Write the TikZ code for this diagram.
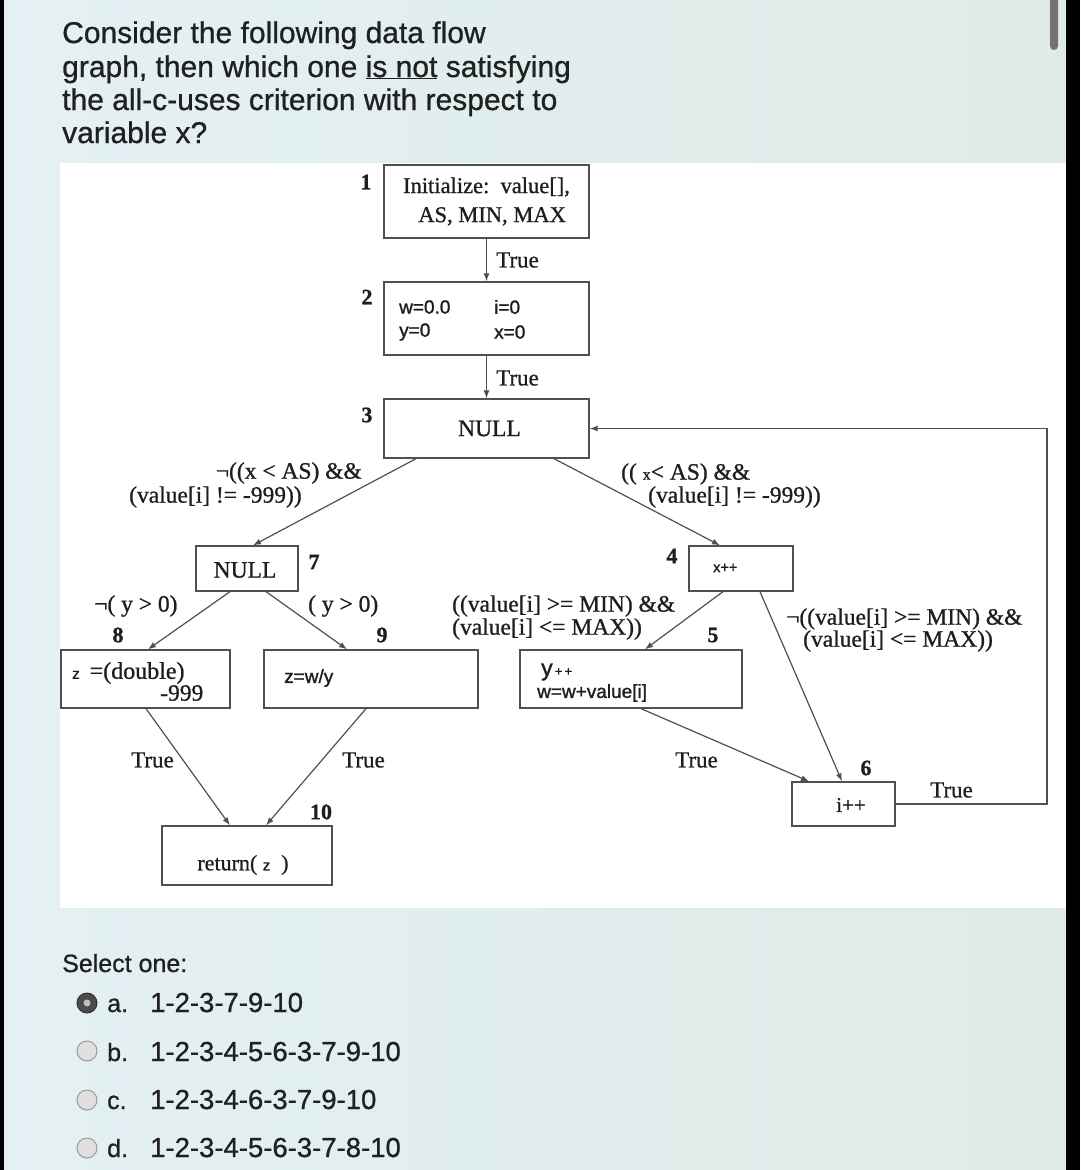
\documentclass[tikz,border=0pt]{standalone}
\usepackage{fontspec}
\setmainfont{Liberation Serif}[FakeBold=0.9]
\newfontfamily\ui{Liberation Sans}[FakeBold=0.8]
\newfontfamily\uis{Liberation Sans}[FakeBold=1.4]
\usetikzlibrary{arrows.meta,calc}
\definecolor{bgl}{HTML}{E4F0F3}
\definecolor{bgr}{HTML}{DEEBE7}
\definecolor{edgec}{HTML}{505050}
\definecolor{ink}{HTML}{1E1E1E}
\definecolor{qink}{HTML}{202020}
\tikzset{
  box/.style={draw=edgec, line width=1.3pt, inner sep=0pt, fill=white},
  conn/.style={draw=edgec, line width=1.2pt, -{Latex[length=8pt,width=6pt]}},
  lbl/.style={inner sep=0pt, text=ink, font=\fontsize{23.5}{26}\selectfont},
  num/.style={inner sep=0pt, text=ink, font=\fontsize{22}{24}\selectfont\bfseries},
  small/.style={inner sep=0pt, text=ink, font=\uis\fontsize{19}{21}\selectfont},
  qtext/.style={inner sep=0pt, anchor=base west, text=qink, font=\ui\fontsize{30}{32}\selectfont},
  otext/.style={inner sep=0pt, anchor=base west, text=qink, font=\ui\fontsize{25}{28}\selectfont},
  ptext/.style={inner sep=0pt, anchor=base west, text=qink, font=\ui\fontsize{27.5}{28}\selectfont},
  radio/.style={draw=black!40, line width=1pt, fill=black!12},
}
\begin{document}
\begin{tikzpicture}[x=1pt,y=-1pt]
\useasboundingbox (0,0) rectangle (1080,1170);
% background
\shade[left color=bgl, right color=bgr] (0,0) rectangle (1080,1170);
\fill[white] (60,163) rectangle (1066,908);
\fill[black] (1066,0) rectangle (1080,1170);
\fill[black] (0,0) rectangle (4,1170);
\fill[black!55, rounded corners=4pt] (1050,-10) rectangle (1058,50);

% question
\node[qtext] (q1) at (62,43) {Consider the following data flow};
\node[qtext] (q2) at (62,77) {graph, then which one \underline{is not} satisfying};
\node[qtext] (q3) at (62,110) {the all-c-uses criterion with respect to};
\node[qtext] (q4) at (62,143) {variable x?};

% boxes
\node[box, minimum width=205, minimum height=73, align=center, font=\fontsize{22.5}{29}\selectfont, text=ink] (n1) at (486.5,201.5) {Initialize:\ \ value[],\\\ \ AS, MIN, MAX};
\node[box, minimum width=205, minimum height=73] (n2) at (486.5,318.5) {};
\node[box, minimum width=205, minimum height=59, font=\fontsize{23.5}{25}\selectfont, text=ink] (n3) at (486.5,428.5) {\ NULL};
\node[box, minimum width=104, minimum height=45] (n4) at (741,568.5) {};
\node[box, minimum width=222, minimum height=58] (n5) at (631,679) {};
\node[box, minimum width=103, minimum height=44] (n6) at (843.5,804) {};
\node[box, minimum width=102, minimum height=45] (n7) at (247,568.5) {};
\node[box, minimum width=169, minimum height=58] (n8) at (145.5,679) {};
\node[box, minimum width=214, minimum height=58] (n9) at (371,679) {};
\node[box, minimum width=170, minimum height=59] (n10) at (247,855.5) {};

% box texts
\node[small, anchor=west] (t2a) at (399,307) {w=0.0};
\node[small, anchor=west] (t2b) at (494,307) {i=0};
\node[small, anchor=west] (t2c) at (399,332) {y=0};
\node[small, anchor=west] (t2d) at (494,332) {x=0};
\node[small, anchor=west, font=\uis\fontsize{14.5}{16}\selectfont] (t4) at (713,568) {x++};
\node[inner sep=0pt, anchor=west, text=ink] (t5a) at (541,672) {{\uis\fontsize{23}{24}\selectfont y}{\uis\fontsize{13}{14}\selectfont\,+\,+}};
\node[small, anchor=west] (t5b) at (537,693) {w=w+value[i]};
\node[lbl, font=\fontsize{21}{22}\selectfont] (t6) at (851,805) {i++};
\node[lbl, font=\fontsize{23.5}{25}\selectfont] (t7) at (245,570) {NULL};
\node[inner sep=0pt, anchor=west, text=ink] (t8a) at (72,673) {{\uis\fontsize{15}{16}\selectfont z}\ \ \ \ {\fontsize{24}{25}\selectfont =(double)}};
\node[lbl, anchor=west] (t8b) at (160,693) {-999};
\node[small, anchor=west] (t9) at (284,678) {z=w/y};
\node[inner sep=0pt, text=ink, font=\fontsize{22}{24}\selectfont] (t10) at (243,865) {return(\ {\uis\fontsize{15}{16}\selectfont z}\ \ )};

% node numbers
\node[num] (l1) at (366,182) {1};
\node[num] (l2) at (367,297) {2};
\node[num] (l3) at (367,415) {3};
\node[num] (l4) at (672,556) {4};
\node[num] (l5) at (713,635) {5};
\node[num] (l6) at (866,768) {6};
\node[num] (l7) at (314,562) {7};
\node[num] (l8) at (118,635) {8};
\node[num] (l9) at (382,635) {9};
\node[num] (l10) at (321,812) {10};

% connectors
\draw[conn] (n1.south) -- (n2.north);
\draw[conn] (n2.south) -- (n3.north);
\draw[conn] ([xshift=-70.5pt]n3.south) -- ([xshift=6pt]n7.north);
\draw[conn] ([xshift=67.5pt]n3.south) -- ([xshift=-21pt]n4.north);
\draw[conn] ([xshift=-18pt]n4.south) -- ([xshift=14pt]n5.north);
\draw[conn] ([xshift=19pt]n4.south) -- ([xshift=-1.5pt]n6.north);
\draw[conn] ([xshift=10pt]n5.south) -- ([xshift=-34.5pt]n6.north);
\draw[conn] ([xshift=-17pt]n7.south) -- ([xshift=2.5pt]n8.north);
\draw[conn] ([xshift=19pt]n7.south) -- ([xshift=-24pt]n9.north);
\draw[conn] ([xshift=0.5pt]n8.south) -- ([xshift=-17pt]n10.north);
\draw[conn] ([xshift=-5pt]n9.south) -- ([xshift=19pt]n10.north);
\coordinate (loopc) at (1047,804);
\draw[conn] (n6.east) -- (loopc) |- (n3.east);

% edge labels
\node[lbl, anchor=west, font=\fontsize{23}{25}\selectfont] (e12) at (496,260) {True};
\node[lbl, anchor=west, font=\fontsize{23}{25}\selectfont] (e23) at (496,378) {True};
\node[lbl, anchor=east] (e37a) at (362,473) {¬((x < AS) \&\&};
\node[lbl, anchor=west] (e37b) at (129,497) {(value[i] != -999))};
\node[lbl, anchor=west] (e34a) at (621,474) {(( {\fontsize{16}{16}\selectfont x}< AS) \&\&};
\node[lbl, anchor=west] (e34b) at (648,497) {(value[i] != -999))};
\node[lbl, anchor=west] (e45a) at (452,606) {((value[i] >= MIN) \&\&};
\node[lbl, anchor=west] (e45b) at (452,629) {(value[i] <= MAX))};
\node[lbl, anchor=west] (e46a) at (786,619) {¬((value[i] >= MIN) \&\&};
\node[lbl, anchor=west] (e46b) at (803,641) {(value[i] <= MAX))};
\node[lbl, anchor=west] (e78) at (94,606) {¬( y > 0)};
\node[lbl, anchor=west] (e79) at (308,606) {( y > 0)};
\node[lbl, anchor=west, font=\fontsize{23}{25}\selectfont] (e810) at (131,760) {True};
\node[lbl, anchor=west, font=\fontsize{23}{25}\selectfont] (e910) at (342,760) {True};
\node[lbl, anchor=west, font=\fontsize{23}{25}\selectfont] (e56) at (675,760) {True};
\node[lbl, anchor=west, font=\fontsize{23}{25}\selectfont] (e63) at (930,790) {True};

% options
\node[otext] (sel) at (62,972) {Select one:};
\fill[black!70, draw=black!80, line width=1pt] (87,1003) circle (10);
\fill[black!25] (87,1003) circle (3.5);
\draw[radio] (87,1051) circle (10);
\draw[radio] (87,1100) circle (10);
\draw[radio] (87,1148) circle (10);
\node[otext] (oa) at (107,1012) {a.};
\node[ptext] (pa) at (150,1012) {1-2-3-7-9-10};
\node[otext] (ob) at (107,1061) {b.};
\node[ptext] (pb) at (150,1061) {1-2-3-4-5-6-3-7-9-10};
\node[otext] (oc) at (107,1109) {c.};
\node[ptext] (pc) at (150,1109) {1-2-3-4-6-3-7-9-10};
\node[otext] (od) at (107,1157) {d.};
\node[ptext] (pd) at (150,1157) {1-2-3-4-5-6-3-7-8-10};
\end{tikzpicture}
\end{document}
